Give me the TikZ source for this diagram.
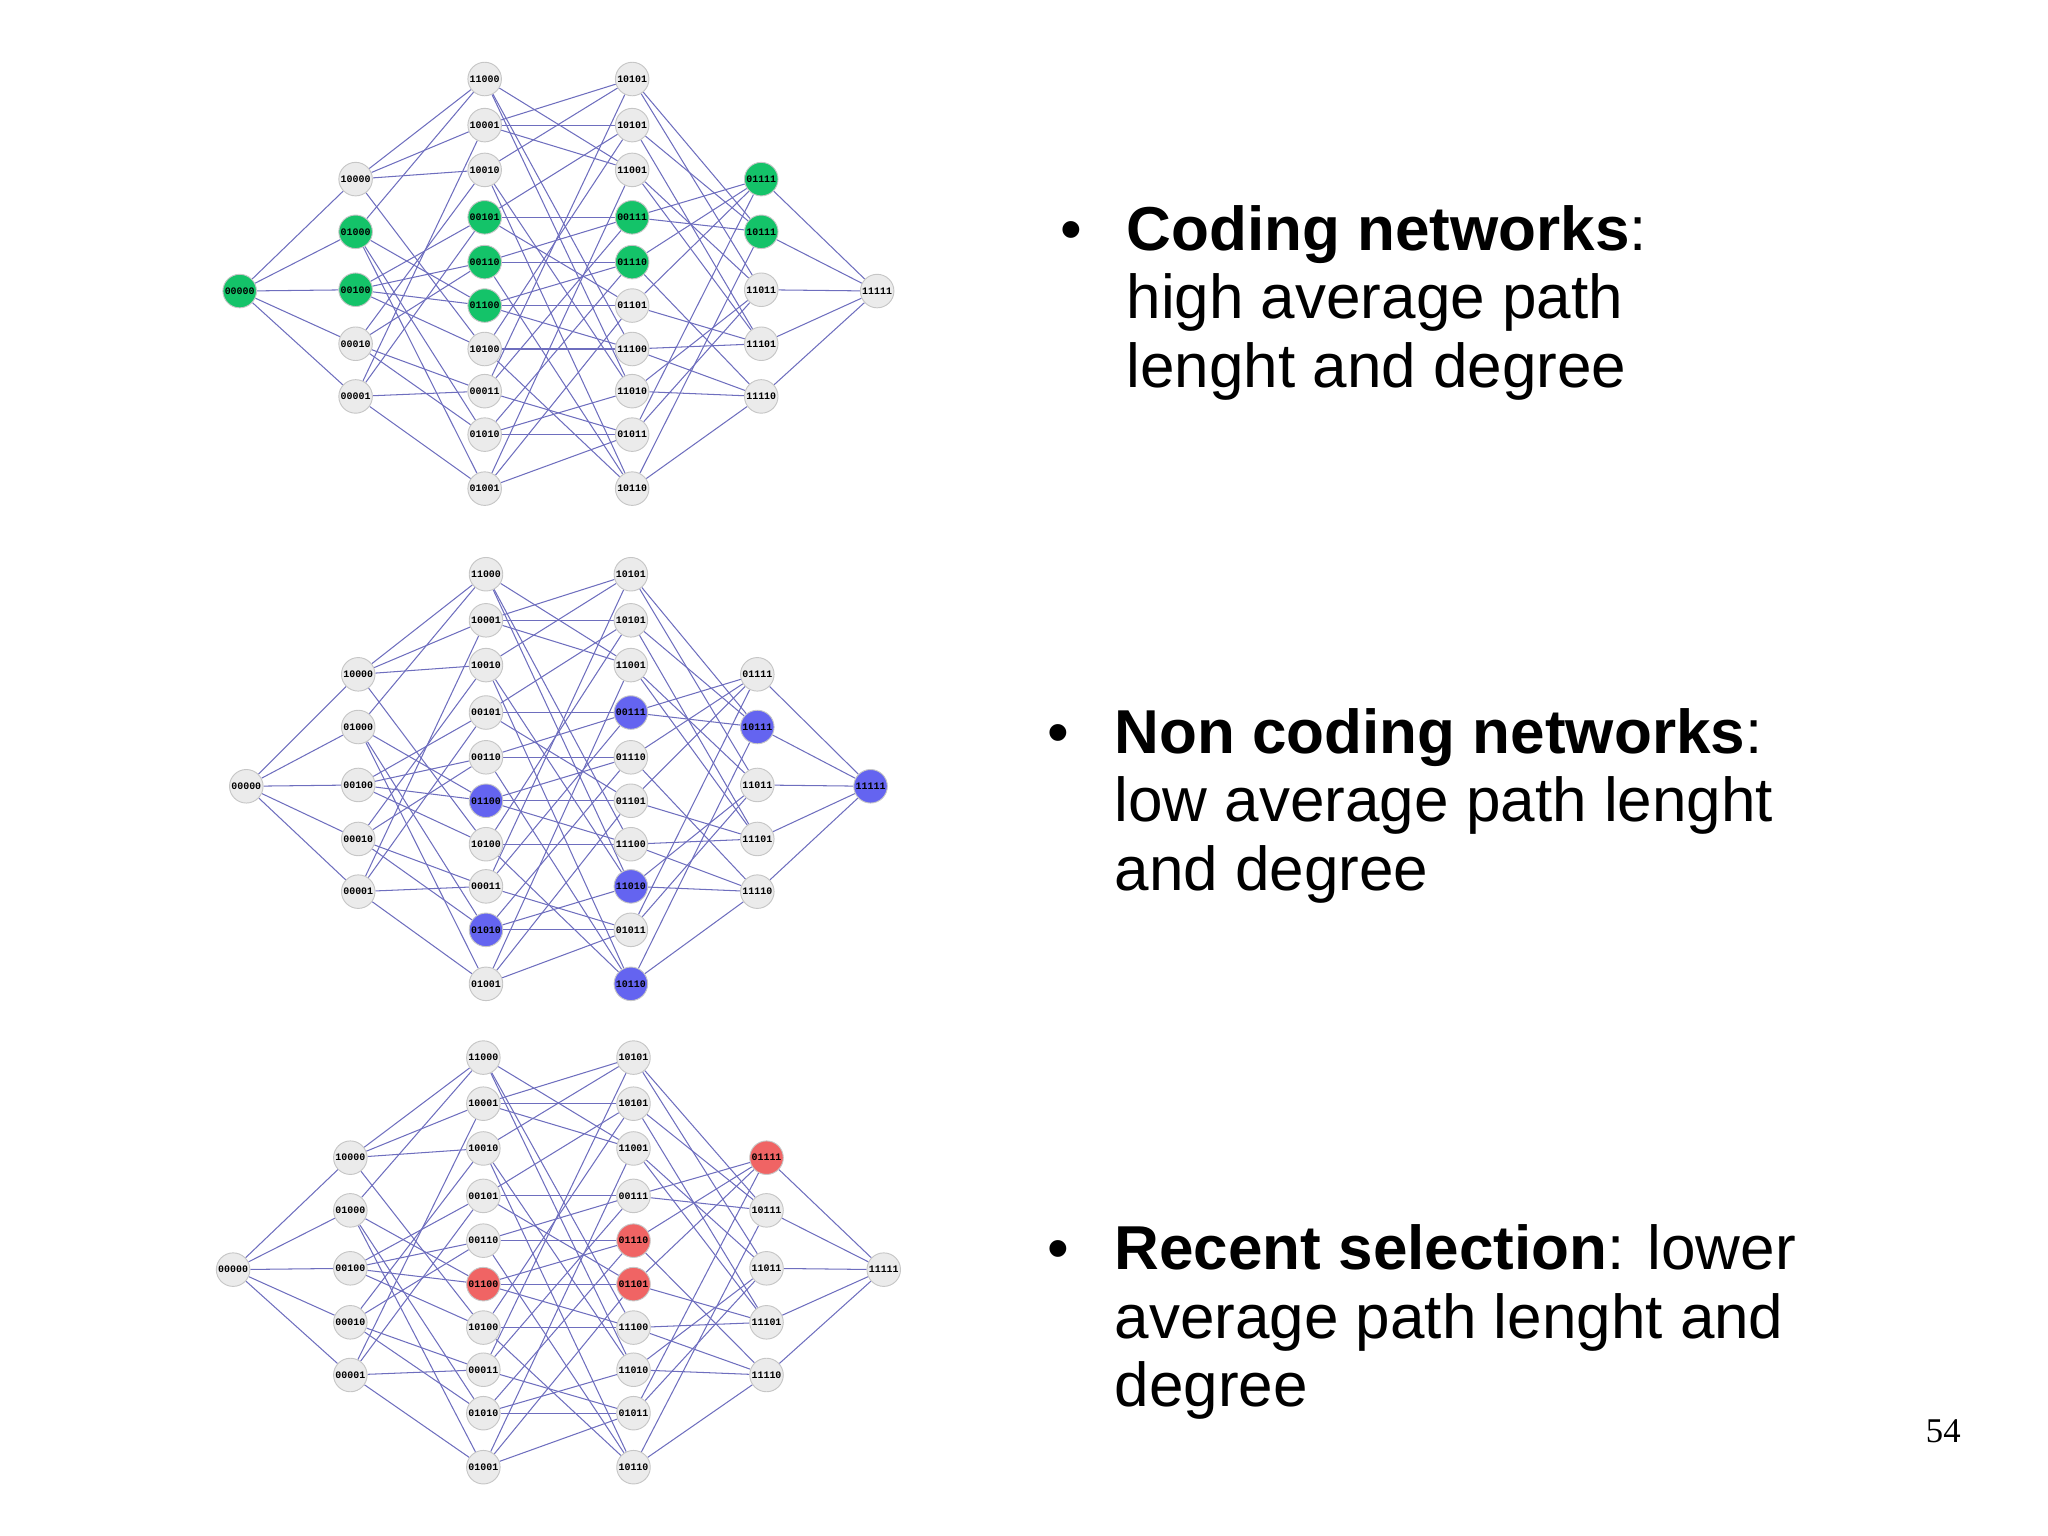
\documentclass[tikz,border=0pt]{standalone}
\usepackage{fontspec}
\setmainfont{Liberation Sans}
\newfontfamily\numfont{Liberation Serif}
\newfontfamily\lblfont{Liberation Mono}
\usetikzlibrary{backgrounds}
\definecolor{edgec}{RGB}{110,110,190}
\definecolor{nodec}{RGB}{235,235,235}
\definecolor{grn}{RGB}{20,195,105}
\definecolor{blu}{RGB}{100,100,240}
\definecolor{rd}{RGB}{240,100,100}
\tikzset{
  nd/.style={circle,draw=gray!45,line width=0.4pt,minimum size=14.5pt,inner sep=0pt,
    font=\lblfont\bfseries\fontsize{4.3}{5}\selectfont},
  ed/.style={draw=edgec,line width=0.45pt},
  txt/.style={anchor=base west,inner sep=0pt,font=\fontsize{26.8}{29.5}\selectfont}
}
\newcommand\setfc[2]{\xdef\fc{nodec}%
  \foreach \h in #2 {\ifnum\h=#1 \xdef\fc{\col}\fi}}
\begin{document}
\begin{tikzpicture}[x=0.02cm,y=-0.02cm]
\useasboundingbox (0,0) rectangle (1555,1166);
\foreach \p/\yo/\xa/\xb/\xc/\xd/\xe/\xf/\col/\hl in {
  a/0/182/270/368/480/578/666/grn/{0,8,4,5,6,12,7,14,15,23},
  b/376/187/272/369/479/575/661/blu/{12,10,7,26,22,23,31},
  c/743/177/266/367/481/582/671/rd/{12,14,13,15}}{
  \setfc{0}{\hl}
  \node[nd,fill=\fc] (\p0) at (\xa,221+\yo) {00000};
  \foreach \v/\l/\y in {16/10000/136,8/01000/176,4/00100/220,2/00010/261,1/00001/301}{
    \setfc{\v}{\hl}
    \node[nd,fill=\fc] (\p\v) at (\xb,\y+\yo) {\l};}
  \foreach \v/\l/\y in {24/11000/60,17/10001/95,18/10010/129,5/00101/165,6/00110/199,
      12/01100/232,20/10100/265,3/00011/297,10/01010/330,9/01001/371}{
    \setfc{\v}{\hl}
    \node[nd,fill=\fc] (\p\v) at (\xc,\y+\yo) {\l};}
  \foreach \v/\l/\y in {19/10101/60,21/10101/95,25/11001/129,7/00111/165,14/01110/199,
      13/01101/232,28/11100/265,26/11010/297,11/01011/330,22/10110/371}{
    \setfc{\v}{\hl}
    \node[nd,fill=\fc] (\p\v) at (\xd,\y+\yo) {\l};}
  \foreach \v/\l/\y in {15/01111/136,23/10111/176,27/11011/220,29/11101/261,30/11110/301}{
    \setfc{\v}{\hl}
    \node[nd,fill=\fc] (\p\v) at (\xe,\y+\yo) {\l};}
  \setfc{31}{\hl}
  \node[nd,fill=\fc] (\p31) at (\xf,221+\yo) {11111};
  % hypercube edges between neighbouring layers
  \begin{pgfonlayer}{background}
    \foreach \v in {1,...,31}
      \foreach \b in {1,2,4,8,16}{
        \pgfmathtruncatemacro\bit{mod(floor(\v/\b),2)}
        \ifnum\bit=1
          \pgfmathtruncatemacro\u{\v-\b}
          \draw[ed] (\p\v) -- (\p\u);
        \fi}
  \end{pgfonlayer}
}
% texts
\node[txt] (t1) at (805,190) {\textbullet};
\node[txt] (t1a) at (855,190) {\textbf{Coding networks}:};
\node[txt] (t1b) at (855,242) {high average path};
\node[txt] (t1c) at (855,294) {lenght and degree};
\node[txt] (t2) at (795,572) {\textbullet};
\node[txt] (t2a) at (846,572) {\textbf{Non coding networks}:};
\node[txt] (t2b) at (846,624) {low average path lenght};
\node[txt] (t2c) at (846,676) {and degree};
\node[txt] (t3) at (795,964) {\textbullet};
\node[txt] (t3a) at (846,964) {\textbf{Recent selection}: lower};
\node[txt] (t3b) at (846,1016) {average path lenght and};
\node[txt] (t3c) at (846,1068) {degree};
\node[anchor=base east,inner sep=0pt,font=\numfont\fontsize{15}{18}\selectfont] (pg) at (1489,1095) {54};
\end{tikzpicture}
\end{document}
